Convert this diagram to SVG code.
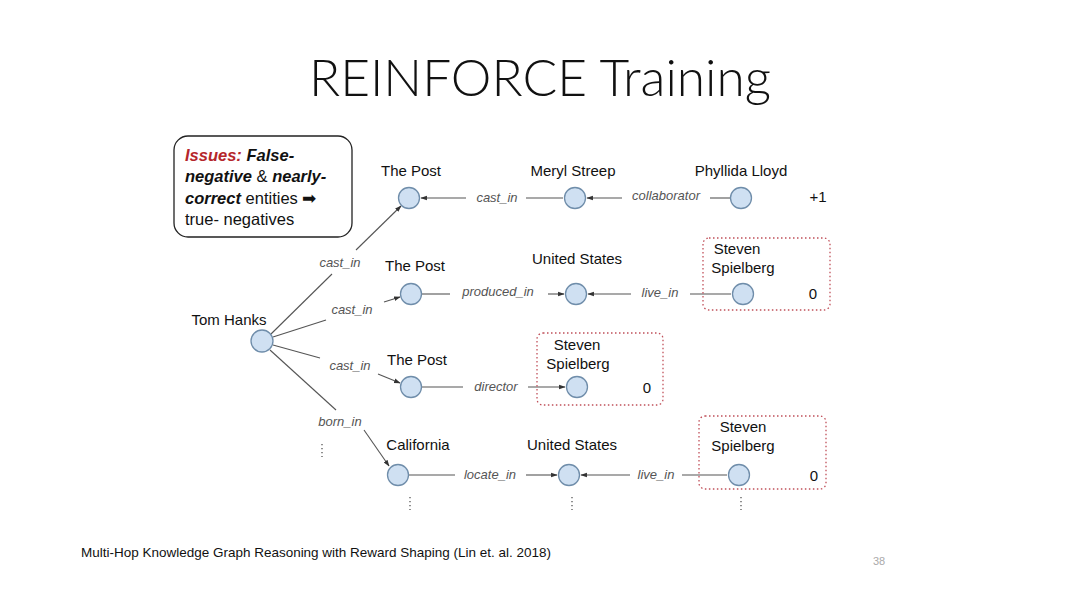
<svg xmlns="http://www.w3.org/2000/svg" width="1080" height="608" viewBox="0 0 1080 608">
<style>
.node{fill:#cfe0f2;stroke:#6f8daa;stroke-width:1.3}
.lbl{font-family:"Liberation Sans",Arial,sans-serif;font-size:15px;fill:#111}
.el{font-family:"Liberation Sans",Arial,sans-serif;font-size:13px;font-style:italic;fill:#555;text-anchor:middle}
.ln{stroke:#555;stroke-width:1.1;fill:none}
.box{fill:none;stroke:#c0505a;stroke-width:1.3;stroke-dasharray:1.5 2.5}
.dots{stroke:#555;stroke-width:1.3;stroke-dasharray:1.3 2.7}
.iss{font-family:"Liberation Sans",Arial,sans-serif;font-size:16.5px;fill:#111}
</style>
<defs>
<marker id="ah" viewBox="0 0 10 10" refX="9" refY="5" markerWidth="6" markerHeight="6" orient="auto">
<path d="M0,1.5 L10,5 L0,8.5 z" fill="#333"/>
</marker>
</defs>
<rect width="1080" height="608" fill="#ffffff"/>
<text x="540" y="96" text-anchor="middle" font-family="Lato, 'Open Sans', sans-serif" font-weight="300" font-size="52" fill="#111" textLength="462" lengthAdjust="spacingAndGlyphs">REINFORCE Training</text>

<g id="issues">
<rect x="174" y="136" width="178" height="101" rx="14" fill="#fff" stroke="#222" stroke-width="1.3"/>
<text class="iss" x="185" y="161"><tspan fill="#b5262b" font-weight="bold" font-style="italic">Issues:</tspan><tspan font-weight="bold" font-style="italic"> False-</tspan></text>
<text class="iss" x="185" y="182"><tspan font-weight="bold" font-style="italic">negative</tspan> &amp; <tspan font-weight="bold" font-style="italic">nearly-</tspan></text>
<text class="iss" x="185" y="204"><tspan font-weight="bold" font-style="italic">correct</tspan> entities ➡</text>
<text class="iss" x="185" y="225">true- negatives</text>
</g>

<g id="connectors">
<!-- Tom Hanks edges -->
<line class="ln" x1="271" y1="334" x2="332" y2="274"/>
<line class="ln" x1="356" y1="250" x2="401" y2="206" marker-end="url(#ah)"/>
<line class="ln" x1="273" y1="337" x2="326" y2="320"/>
<line class="ln" x1="384" y1="302" x2="400" y2="297" marker-end="url(#ah)"/>
<line class="ln" x1="273" y1="345" x2="320" y2="358"/>
<line class="ln" x1="378" y1="374" x2="400" y2="383" marker-end="url(#ah)"/>
<line class="ln" x1="270" y1="350" x2="336" y2="410"/>
<line class="ln" x1="364" y1="430" x2="389" y2="466" marker-end="url(#ah)"/>
<!-- row 1 -->
<line class="ln" x1="563" y1="198" x2="526" y2="198"/>
<line class="ln" x1="466" y1="198" x2="421" y2="198" marker-end="url(#ah)"/>
<line class="ln" x1="730" y1="198" x2="710" y2="198"/>
<line class="ln" x1="622" y1="198" x2="587" y2="198" marker-end="url(#ah)"/>
<!-- row 2 -->
<line class="ln" x1="422" y1="294" x2="450" y2="294"/>
<line class="ln" x1="548" y1="294" x2="564" y2="294" marker-end="url(#ah)"/>
<line class="ln" x1="731" y1="294" x2="690" y2="294"/>
<line class="ln" x1="631" y1="294" x2="588" y2="294" marker-end="url(#ah)"/>
<!-- row 3 -->
<line class="ln" x1="422" y1="387" x2="463" y2="387"/>
<line class="ln" x1="528" y1="387" x2="565" y2="387" marker-end="url(#ah)"/>
<!-- row 4 -->
<line class="ln" x1="409" y1="475" x2="455" y2="475"/>
<line class="ln" x1="526" y1="475" x2="557" y2="475" marker-end="url(#ah)"/>
<line class="ln" x1="727" y1="475" x2="682" y2="475"/>
<line class="ln" x1="630" y1="475" x2="581" y2="475" marker-end="url(#ah)"/>
<!-- edge labels -->
<text class="el" x="340" y="267">cast_in</text>
<text class="el" x="352" y="314">cast_in</text>
<text class="el" x="350" y="370">cast_in</text>
<text class="el" x="340" y="426">born_in</text>
<text class="el" x="497" y="202">cast_in</text>
<text class="el" x="666" y="200">collaborator</text>
<text class="el" x="498" y="296">produced_in</text>
<text class="el" x="660" y="297">live_in</text>
<text class="el" x="496" y="391">director</text>
<text class="el" x="490" y="479">locate_in</text>
<text class="el" x="656" y="479">live_in</text>
</g>

<g id="tom-hanks">
<circle class="node" cx="262" cy="341" r="11"/>
<text class="lbl" x="229" y="325" text-anchor="middle">Tom Hanks</text>
</g>

<g id="the-post-1">
<circle class="node" cx="409" cy="198" r="10.5"/>
<text class="lbl" x="411" y="176" text-anchor="middle">The Post</text>
</g>
<g id="meryl-streep">
<circle class="node" cx="575" cy="198" r="10.5"/>
<text class="lbl" x="573" y="176" text-anchor="middle">Meryl Streep</text>
</g>
<g id="phyllida-lloyd">
<circle class="node" cx="741" cy="198" r="10.5"/>
<text class="lbl" x="741" y="176" text-anchor="middle">Phyllida Lloyd</text>
<text class="lbl" x="818" y="202" text-anchor="middle" font-size="16">+1</text>
</g>

<g id="the-post-2">
<circle class="node" cx="411" cy="294" r="10.5"/>
<text class="lbl" x="415" y="271" text-anchor="middle">The Post</text>
</g>
<g id="united-states-1">
<circle class="node" cx="576" cy="294" r="10.5"/>
<text class="lbl" x="577" y="264" text-anchor="middle">United States</text>
</g>
<g id="spielberg-1">
<rect class="box" x="703" y="238" width="127" height="72" rx="6"/>
<circle class="node" cx="743" cy="294" r="10.5"/>
<text class="lbl" x="737" y="254" text-anchor="middle">Steven</text>
<text class="lbl" x="743" y="273" text-anchor="middle">Spielberg</text>
<text class="lbl" x="813" y="299" text-anchor="middle" font-size="16">0</text>
</g>

<g id="the-post-3">
<circle class="node" cx="411" cy="387" r="10.5"/>
<text class="lbl" x="417" y="365" text-anchor="middle">The Post</text>
</g>
<g id="spielberg-2">
<rect class="box" x="537" y="333" width="126" height="72" rx="6"/>
<circle class="node" cx="577" cy="387" r="10.5"/>
<text class="lbl" x="577" y="350" text-anchor="middle">Steven</text>
<text class="lbl" x="578" y="369" text-anchor="middle">Spielberg</text>
<text class="lbl" x="647" y="393" text-anchor="middle" font-size="16">0</text>
</g>

<g id="california">
<circle class="node" cx="398" cy="475" r="10.5"/>
<text class="lbl" x="418" y="450" text-anchor="middle">California</text>
</g>
<g id="united-states-2">
<circle class="node" cx="569" cy="475" r="10.5"/>
<text class="lbl" x="572" y="450" text-anchor="middle">United States</text>
</g>
<g id="spielberg-3">
<rect class="box" x="699" y="416" width="127" height="73" rx="6"/>
<circle class="node" cx="739" cy="475" r="10.5"/>
<text class="lbl" x="743" y="432" text-anchor="middle">Steven</text>
<text class="lbl" x="743" y="451" text-anchor="middle">Spielberg</text>
<text class="lbl" x="814" y="481" text-anchor="middle" font-size="16">0</text>
</g>

<g id="ellipses">
<line class="dots" x1="322" y1="444" x2="322" y2="457"/>
<line class="dots" x1="410" y1="497" x2="410" y2="510"/>
<line class="dots" x1="572" y1="497" x2="572" y2="510"/>
<line class="dots" x1="741" y1="497" x2="741" y2="510"/>
</g>

<text x="81" y="557" font-family="'Liberation Sans Narrow','Liberation Sans',Arial,sans-serif" font-size="13" fill="#111" textLength="470" lengthAdjust="spacingAndGlyphs">Multi-Hop Knowledge Graph Reasoning with Reward Shaping (Lin et. al. 2018)</text>
<text x="879" y="565" text-anchor="middle" font-family="'Liberation Sans',Arial,sans-serif" font-size="11" fill="#aaa">38</text>
</svg>
